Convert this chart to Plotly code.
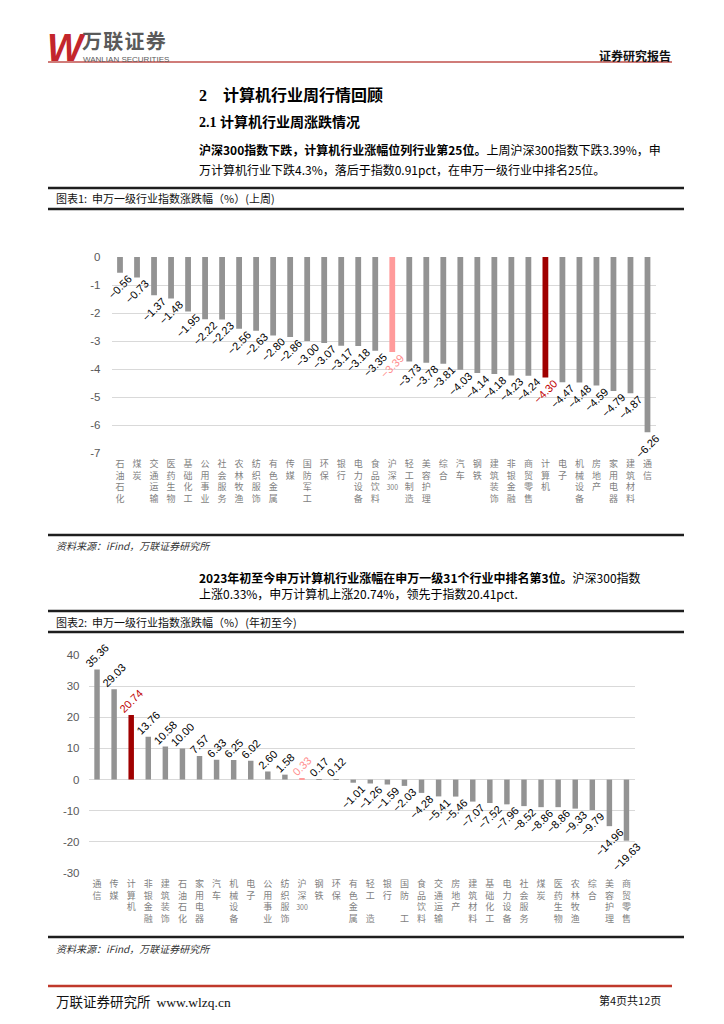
import plotly.graph_objects as go

# ---------------- data ----------------
cats1 = ["石油石化", "煤炭", "交通运输", "医药生物", "基础化工", "公用事业", "社会服务", "农林牧渔",
         "纺织服饰", "有色金属", "传媒", "国防军工", "环保", "银行", "电力设备", "食品饮料",
         "沪深300", "轻工制造", "美容护理", "综合", "汽车", "钢铁", "建筑装饰", "非银金融",
         "商贸零售", "计算机", "电子", "机械设备", "房地产", "家用电器", "建筑材料", "通信"]
vals1 = [-0.56, -0.73, -1.37, -1.48, -1.95, -2.22, -2.23, -2.56, -2.63, -2.80, -2.86, -3.00,
         -3.07, -3.17, -3.18, -3.35, -3.39, -3.73, -3.78, -3.81, -4.03, -4.14, -4.18, -4.23,
         -4.24, -4.30, -4.47, -4.48, -4.59, -4.79, -4.87, -6.26]

cats2 = ["通信", "传媒", "计算机", "非银金融", "建筑装饰", "石油石化", "家用电器", "汽车",
         "机械设备", "电子", "公用事业", "纺织服饰", "沪深300", "钢铁", "环保", "有色金属",
         "轻工制造", "银行", "国防军工", "食品饮料", "交通运输", "房地产", "建筑材料", "基础化工",
         "电力设备", "社会服务", "煤炭", "医药生物", "农林牧渔", "综合", "美容护理", "商贸零售"]
vals2 = [35.36, 29.03, 20.74, 13.76, 10.58, 10.00, 7.57, 6.33, 6.25, 6.02, 2.60, 1.58, 0.33,
         0.17, 0.12, -1.01, -1.26, -1.59, -2.03, -4.28, -5.41, -5.46, -7.07, -7.52, -7.96,
         -8.52, -8.86, -8.86, -9.33, -9.79, -14.96, -19.63]

# labels as they appear on the second chart (some glyphs missing in the source)
labels2_override = {"国防军工": "国防\u3000工", "轻工制造": "轻工\u3000造"}

yticks1 = [0, -1, -2, -3, -4, -5, -6, -7]
yticks2 = [40, 30, 20, 10, 0, -10, -20, -30]

# ---------------- styles ----------------
OFF = 8                      # page body margin of the html page
W, H = 724 - OFF, 1024 - OFF
GRAY_BAR = "#939393"
RED_BAR = "#a00000"
PINK_BAR = "#ff9b9b"
CJK = "Noto Sans CJK SC"
LAT = "Liberation Sans"


def px(x):
    return (x - OFF) / W


def py(y):
    return 1 - (y - OFF) / H


def bar_color(c):
    return RED_BAR if c == "计算机" else (PINK_BAR if c == "沪深300" else GRAY_BAR)


def text_color(c):
    return "#c00000" if c == "计算机" else ("#ff8f8f" if c == "沪深300" else "#000000")


def fmt(v):
    return f"{v:.2f}".replace("-", "\u2212")


def vlabel(c, override=None):
    s = (override or {}).get(c, c)
    if s.endswith("300"):
        head = s[:-3]
        return "<br>".join(list(head)) + "<br><span style='font-size:7px'>300</span>"
    return "<br>".join(list(s))


fig = go.Figure()

fig.add_trace(go.Bar(
    x=cats1, y=vals1, xaxis="x", yaxis="y",
    marker=dict(color=[bar_color(c) for c in cats1], line=dict(width=0)),
    width=0.34,
    text=[fmt(v) for v in vals1], textposition="outside", textangle=-45,
    constraintext="none", cliponaxis=False,
    textfont=dict(family=LAT, size=11, color=[text_color(c) for c in cats1]),
    showlegend=False, hoverinfo="skip",
))

fig.add_trace(go.Bar(
    x=cats2, y=vals2, xaxis="x2", yaxis="y2",
    marker=dict(color=[bar_color(c) for c in cats2], line=dict(width=0)),
    width=0.32,
    text=[fmt(v) for v in vals2], textposition="outside", textangle=-45,
    constraintext="none", cliponaxis=False,
    textfont=dict(family=LAT, size=11, color=[text_color(c) for c in cats2]),
    showlegend=False, hoverinfo="skip",
))

axis_tick_font = dict(family=CJK, size=9, color="#7f7f7f")
ytick_font = dict(family=LAT, size=11.5, color="#595959")

fig.update_layout(
    template="none",
    width=W, height=H, autosize=False,
    margin=dict(l=0, r=0, t=0, b=0, pad=0, autoexpand=False),
    paper_bgcolor="white", plot_bgcolor="white",
    showlegend=False,
    xaxis=dict(domain=[px(111.5), px(656)], anchor="y", automargin=False,
               tickmode="array", tickvals=cats1, ticktext=[vlabel(c) for c in cats1],
               tickangle=0, tickfont=axis_tick_font, showgrid=False, showline=False,
               zeroline=False, ticks="", ticklabelstandoff=4, fixedrange=True),
    yaxis=dict(domain=[py(453), py(257)], anchor="x", range=[-7, 0], automargin=False,
               tickmode="array", tickvals=yticks1, ticktext=[str(v) for v in yticks1],
               tickfont=ytick_font, showgrid=True, gridcolor="#d9d9d9", gridwidth=1,
               zeroline=False, showline=False, ticks="", ticklabelstandoff=10),
    xaxis2=dict(domain=[px(88.5), px(635)], anchor="y2", automargin=False,
                tickmode="array", tickvals=cats2,
                ticktext=[vlabel(c, labels2_override) for c in cats2],
                tickangle=0, tickfont=axis_tick_font, showgrid=False, showline=False,
                zeroline=False, ticks="", ticklabelstandoff=4),
    yaxis2=dict(domain=[py(873), py(655)], anchor="x2", range=[-30, 40], automargin=False,
                tickmode="array", tickvals=yticks2, ticktext=[str(v) for v in yticks2],
                tickfont=ytick_font, showgrid=True, gridcolor="#d9d9d9", gridwidth=1,
                zeroline=False, showline=False, ticks="", ticklabelstandoff=8),
)

shapes = []


def hline(y, x0, x1, color, width):
    shapes.append(dict(type="line", xref="paper", yref="paper",
                       x0=px(x0), x1=px(x1), y0=py(y), y1=py(y),
                       line=dict(color=color, width=width)))


hline(62, 48, 672, "#c0504d", 1.5)
for yy in (188, 209, 535, 611, 632, 937):
    hline(yy, 48, 684, "#1e1e1e", 2.5)
hline(986, 48, 672, "#c0392b", 2.5)
fig.update_layout(shapes=shapes)

ann = []


def text(x, y, s, size, color="#000", family=CJK, xanchor="left", style="normal", weight="normal"):
    ann.append(dict(x=px(x), y=py(y), xref="paper", yref="paper", text=s, showarrow=False,
                    xanchor=xanchor, yanchor="middle", borderpad=0,
                    font=dict(family=family, size=size, color=color, style=style, weight=weight)))


# header / logo
text(46, 48, "W", 38, color="#c3262c", family="Liberation Sans", style="italic", weight="bold")
text(81, 41, "万\u200a联\u200a证\u200a券", 20, color="#5a5a5a", weight="bold")
text(82, 59.5, "WANLIAN SECURITIES", 8, color="#5a5a5a", family=LAT)
text(672, 55, "证券研究报告", 12, color="#111", xanchor="right", weight="bold")

# section headings
text(198, 95, "2　计算机行业周行情回顾", 16, color="#000", family="Liberation Serif, " + CJK, weight="bold")
text(198, 122, "2.1 计算机行业周涨跌情况", 14, color="#000", family="Liberation Serif, " + CJK, weight="bold")

# paragraph 1
text(198, 150, "<b>沪深300指数下跌，计算机行业涨幅位列行业第25位。</b>上周沪深300指数下跌3.39%，申", 12)
text(198, 170, "万计算机行业下跌4.3%，落后于指数0.91pct，在申万一级行业中排名25位。", 12)

# chart 1 title & source
text(55, 198, "图表1:  申万一级行业指数涨跌幅（%）(上周)", 11, color="#111")
text(55, 545, "资料来源：iFind，万联证券研究所", 10, color="#333", style="italic")

# paragraph 2
text(198, 577, "<b>2023年初至今申万计算机行业涨幅在申万一级31个行业中排名第3位。</b>沪深300指数", 12)
text(198, 593, "上涨0.33%，申万计算机上涨20.74%，领先于指数20.41pct.", 12)

# chart 2 title & source
text(55, 622, "图表2:  申万一级行业指数涨跌幅（%）(年初至今)", 11, color="#111")
text(55, 948, "资料来源：iFind，万联证券研究所", 10, color="#333", style="italic")

# footer
text(55, 1001, "万联证券研究所  <span style='font-family:Liberation Serif'>www.wlzq.cn</span>", 13.5, color="#111")
text(662, 1000, "第4页共12页", 11, color="#111", xanchor="right")

fig.update_layout(annotations=ann)

fig.write_html("out.html")
